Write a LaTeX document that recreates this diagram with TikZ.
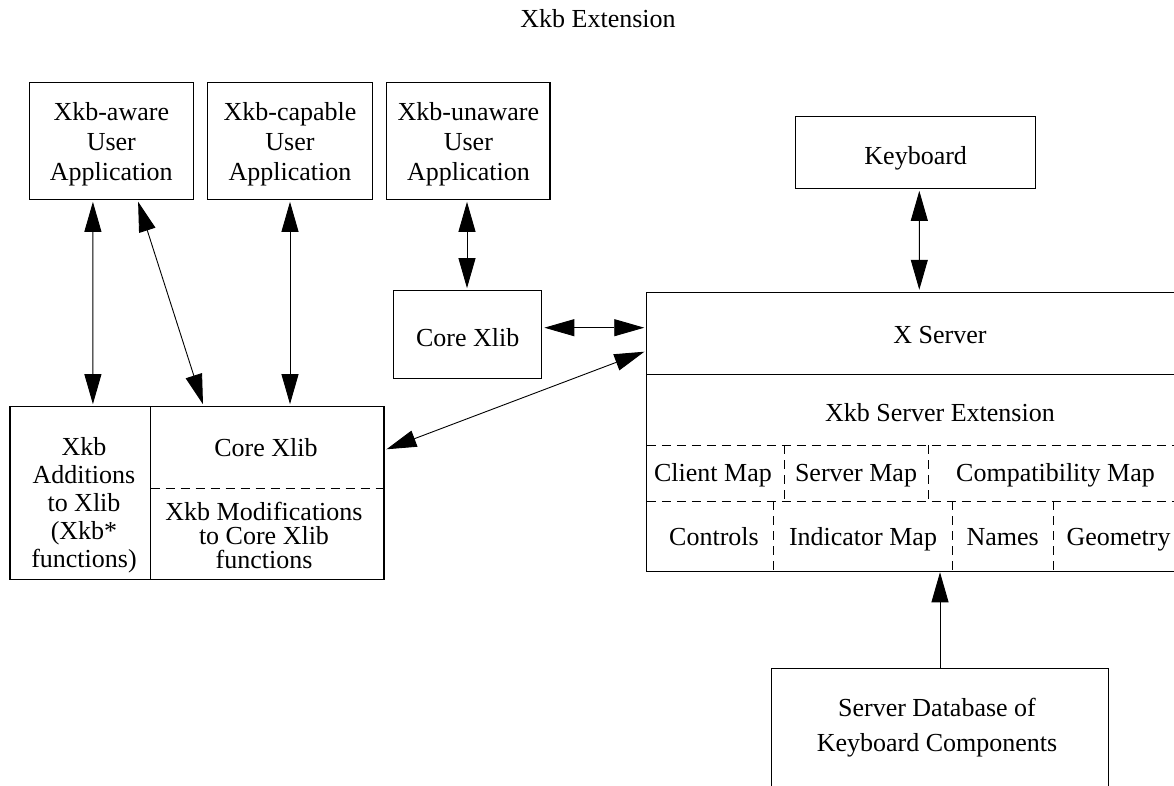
\documentclass[tikz,border=0pt]{standalone}
\usepackage{fontspec}
\setmainfont{Liberation Serif}
\usetikzlibrary{arrows.meta}
\begin{document}
\begin{tikzpicture}[x=1pt,y=-1pt,
  font=\fontsize{26}{29.7}\selectfont,
  box/.style={draw, line width=1.1pt, rectangle, inner sep=0pt},
  txt/.style={inner sep=0pt, align=center},
  tip/.style={Triangle[length=30pt,width=17pt]},
  arr/.style={line width=0.9pt, {Triangle[length=30pt,width=17pt]}-{Triangle[length=30pt,width=17pt]}, shorten >=2pt, shorten <=2pt},
  arrone/.style={line width=0.9pt, -{Triangle[length=30pt,width=17pt]}},
  part/.style={line width=1pt},
  dsh/.style={line width=0.9pt, dash pattern=on 9pt off 6pt}]
\useasboundingbox (0,0) rectangle (1174,786);
\begin{scope}
\clip (0,0) rectangle (1174,786);
% title
\node[txt, anchor=base] (title) at (598,28) {Xkb Extension};
% application boxes
\node[box, minimum width=164pt, minimum height=116.6pt] (aware) at (111.3,141) {};
\node[txt] (awaret) at (111.3,144.2) {Xkb-aware\\User\\Application};
\node[box, minimum width=164.2pt, minimum height=116.6pt] (capable) at (290,141) {};
\node[txt] (capablet) at (290,144.2) {Xkb-capable\\User\\Application};
\node[box, minimum width=163.2pt, minimum height=116.6pt] (unaware) at (468.4,141) {};
\node[txt] (unawaret) at (468.4,144.2) {Xkb-unaware\\User\\Application};
% small core xlib
\node[box, minimum width=148.2pt, minimum height=87.6pt] (cx) at (467.7,334.5) {};
\node[txt, anchor=base] (cxt) at (467.7,346.7) {Core Xlib};
% big left box
\node[box, minimum width=374pt, minimum height=172.6pt] (bigleft) at (197,493) {};
\draw[part] (150.7,406.7) -- (150.7,579.3);
\draw[dsh] (150.7,488.3) -- (384,488.3);
\node[txt, font=\fontsize{26}{28}\selectfont] (addt) at (84,505.4) {Xkb\\Additions\\to Xlib\\(Xkb*\\functions)};
\node[txt, anchor=base] (corext) at (266,456) {Core Xlib};
\node[txt, font=\fontsize{26}{24}\selectfont] (modt) at (264,535.1) {Xkb Modifications\\to Core Xlib\\functions};
% keyboard
\node[box, minimum width=240pt, minimum height=71.6pt] (kb) at (915.7,152.5) {};
\node[txt, anchor=base] (kbt) at (915.7,164.3) {Keyboard};
% X server
\node[box, minimum width=543.2pt, minimum height=279.4pt] (xs) at (918.4,432) {};
\node[txt, anchor=base] (xst) at (940,343.3) {X Server};
\draw[part] (646.8,374.3) -- (1180,374.3);
\node[txt, anchor=base] (xset) at (940,421.7) {Xkb Server Extension};
\draw[dsh] (646.8,445) -- (1180,445);
\draw[dsh] (646.8,501) -- (1180,501);
\draw[dsh] (784.8,445) -- (784.8,501);
\draw[dsh] (928.8,445) -- (928.8,501);
\node[txt, anchor=base] (cmap) at (713,481.7) {Client Map};
\node[txt, anchor=base] (smap) at (856,481.7) {Server Map};
\node[txt, anchor=base] (compat) at (1055.5,481.7) {Compatibility Map};
\draw[dsh] (773.9,501) -- (773.9,571.7);
\draw[dsh] (952,501) -- (952,571.7);
\draw[dsh] (1053.8,501) -- (1053.8,571.7);
\node[txt, anchor=base] (ctrl) at (714,545.7) {Controls};
\node[txt, anchor=base] (imap) at (863,545.7) {Indicator Map};
\node[txt, anchor=base] (names) at (1002.7,545.7) {Names};
\node[txt, anchor=base] (geom) at (1118.5,545.7) {Geometry};
% server database
\node[box, minimum width=336.6pt, minimum height=131.7pt] (db) at (940,734.2) {};
\node[txt, font=\fontsize{26}{35}\selectfont] (dbt) at (937,728.1) {Server Database of\\Keyboard Components};
% connectors
\draw[arr] ([xshift=-18.4pt]aware.south) -- ([xshift=-104.1pt]bigleft.north);
\draw[arr] ([xshift=26.2pt]aware.south) -- ([xshift=6.6pt]bigleft.north);
\draw[arr] (capable.south) -- ([xshift=93pt]bigleft.north);
\draw[arr] ([xshift=-1.4pt]unaware.south) -- ([xshift=-0.7pt]cx.north);
\draw[arr] ([yshift=6.8pt]cx.east) -- ([yshift=104.3pt]xs.west);
\draw[arr] ([yshift=43pt]bigleft.east) -- ([yshift=81pt]xs.west);
\draw[arr] ([xshift=3.6pt]kb.south) -- ([xshift=0.9pt]xs.north);
\draw[arrone] (db.north) -- ([xshift=21.6pt]xs.south);
\end{scope}
\end{tikzpicture}
\end{document}
